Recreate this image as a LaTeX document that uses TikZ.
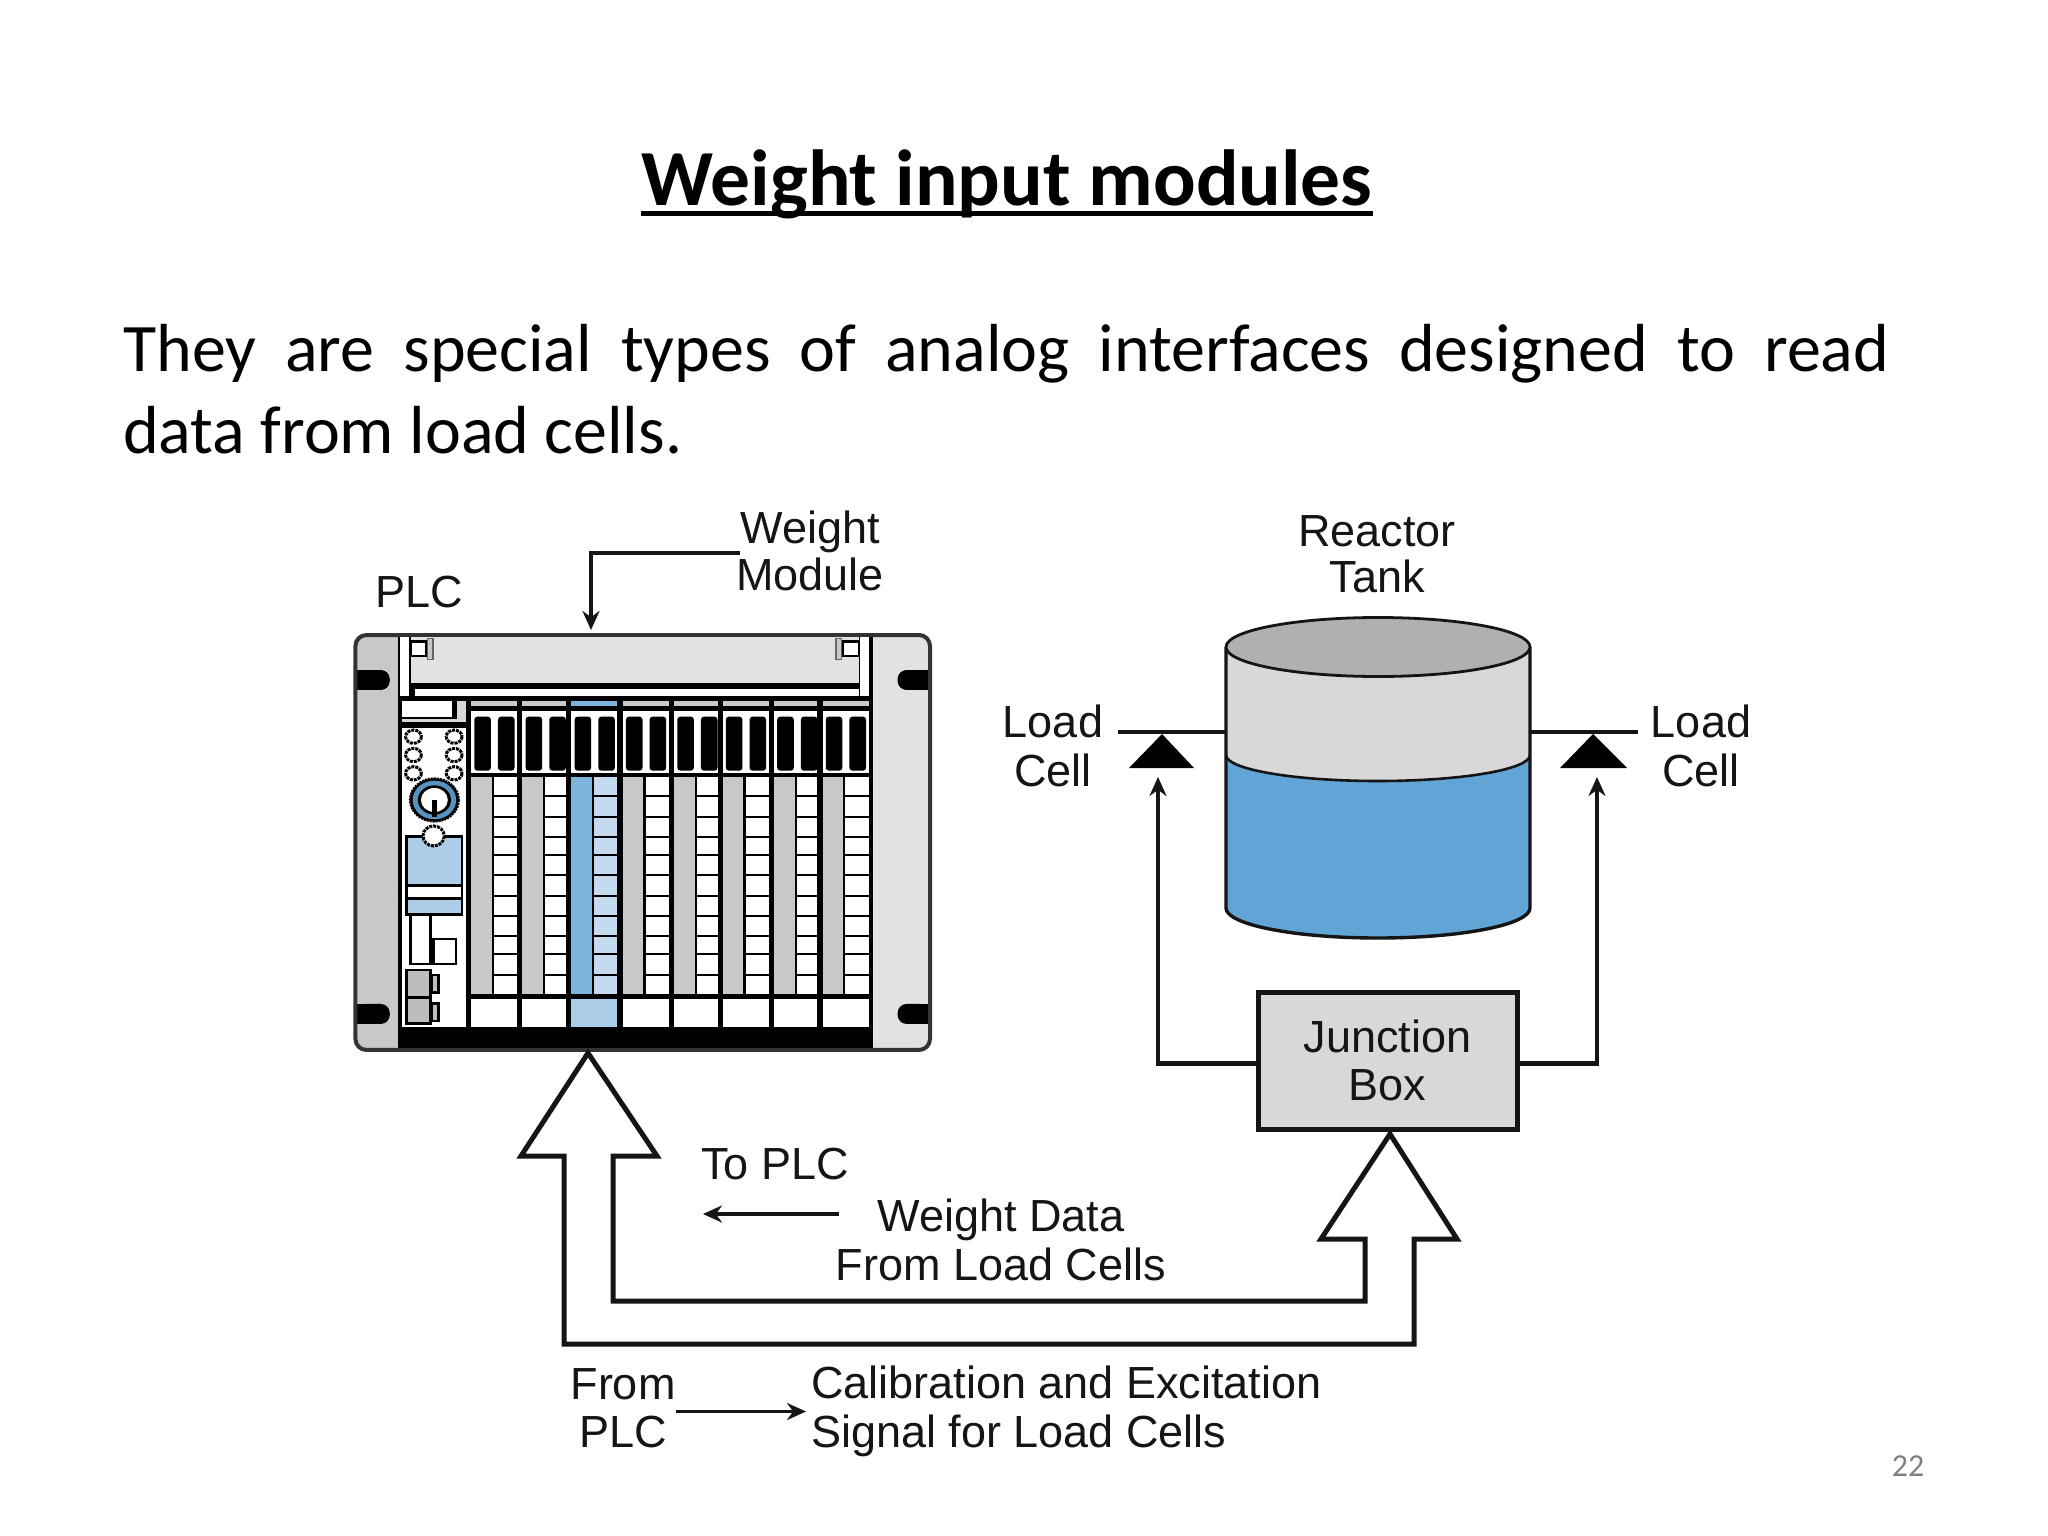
\documentclass[tikz,border=0pt]{standalone}
\usepackage{fontspec}
\setmainfont{Carlito}
\newfontfamily\dgfont{Liberation Sans}
\usetikzlibrary{arrows.meta,calc}
\definecolor{ink}{HTML}{151515}
\definecolor{wblue}{HTML}{60A5D5}
\definecolor{mblue}{HTML}{7DB4DE}
\definecolor{lblue}{HTML}{ABCDE8}
\definecolor{cblue}{HTML}{C5DAEE}
\definecolor{greyA}{HTML}{C8C8CA}
\definecolor{greyB}{HTML}{E2E2E4}
\definecolor{greyC}{HTML}{D8D8DA}
\definecolor{greyD}{HTML}{B0B0B2}
\definecolor{greyE}{HTML}{BDBDBF}
\tikzset{
  x=1pt,y=-1pt,
  lbl/.style={font=\dgfont\fontsize{45}{48.5}\selectfont,text=ink,align=center,inner sep=0pt},
  wire/.style={draw=ink,line width=4.5pt,line join=miter},
  thin wire/.style={draw=ink,line width=3.5pt},
  tip/.style={-{Stealth[length=19pt,width=17pt]}},
  fat/.style={draw=ink,line width=5pt,line join=miter,fill=white},
  outl/.style={draw=black,line width=2.6pt},
  led/.style={draw=black,line width=3pt,densely dotted,fill=white},
}
\newcommand{\plcmodule}[6]{%
  \fill[#6] (#1,243) rectangle (#2,258);
  \fill[white] (#1,272) rectangle (#2,458);
  \fill[black,rounded corners=3pt] ({#1+8},290) rectangle ({#1+50},452);
  \fill[black,rounded corners=3pt] ({#1+68},290) rectangle ({#1+110},452);
  \fill[#3] (#1,470) rectangle ({#1+52},1122);
  \fill[#4] ({#1+58},470) rectangle (#2,1122);
  \foreach \yy in {527,590,650,705,765,828,888,948,1003,1065}
    \fill[black] ({#1+58},\yy-3) rectangle (#2,\yy+3);
  \fill[#5] (#1,1137) rectangle (#2,1222);
}
\begin{document}
\begin{tikzpicture}
\useasboundingbox (0,0) rectangle (2048,1536);
\fill[white] (0,0) rectangle (2048,1536);

% slide text
\node[anchor=base,inner sep=0pt,font=\bfseries\fontsize{79.5}{88}\selectfont,text=black] (title) at (1007,205) {Weight input modules};
\draw[black,line width=5pt] ([yshift=-8pt]title.base west) -- ([yshift=-8pt]title.base east);
\node[anchor=north west,inner sep=0pt,text width=1766pt,align=justify,font=\fontsize{68}{82}\selectfont,text=black] (body) at (123,324)
  {They are special types of analog interfaces designed to read\linebreak data from load cells.};
\node[anchor=center,inner sep=0pt,font=\fontsize{32}{36}\selectfont,text=black!50] (pageno) at (1908,1466) {22};

% PLC rack, drawn in its own grid
\begin{scope}[shift={(341.6,620)},x=0.3949pt,y=-0.3333pt]
  \fill[greyA,rounded corners=10pt] (35,45) rectangle (300,1290);
  \fill[greyB,rounded corners=10pt] (1200,45) rectangle (1490,1290);
  \fill[black] (142,45) rectangle (1345,1290);
  % mounting holes
  \fill[black,rounded corners=9pt] (38,150) rectangle (122,210);
  \fill[black] (38,150) rectangle (70,210);
  \fill[black,rounded corners=9pt] (38,1152) rectangle (122,1212);
  \fill[black] (38,1152) rectangle (70,1212);
  \fill[black,rounded corners=9pt] (1408,150) rectangle (1487,210);
  \fill[black] (1450,150) rectangle (1487,210);
  \fill[black,rounded corners=9pt] (1408,1152) rectangle (1487,1212);
  \fill[black] (1450,1152) rectangle (1487,1212);
  \draw[black!80,line width=4pt,rounded corners=11pt] (35,45) rectangle (1490,1290);
  % top bar
  \fill[greyB] (175,52) rectangle (1310,188);
  \fill[white] (185,207) rectangle (1310,228);
  \fill[white] (148,52) rectangle (170,228);
  \fill[white] (1312,52) rectangle (1335,228);
  \draw[outl,fill=white] (175,65) rectangle (215,108);
  \draw[black!60,line width=1.5pt,fill=greyA] (218,55) rectangle (232,118);
  \draw[outl,fill=white] (1268,65) rectangle (1310,108);
  \draw[black!60,line width=1.5pt,fill=greyA] (1252,55) rectangle (1266,118);
  % CPU column
  \fill[greyC] (153,243) rectangle (315,305);
  \fill[white] (153,243) rectangle (280,290);
  \fill[black] (153,290) rectangle (293,296);
  \fill[black] (280,243) rectangle (293,296);
  \fill[white] (153,325) rectangle (315,1222);
  \foreach \lx in {182,285} \foreach \ly in {350,405,460}
    \draw[led] (\lx,\ly) circle [x radius=20,y radius=20];
  \draw[black,line width=2pt,densely dotted,fill=black] (235,540) circle [x radius=62,y radius=65];
  \fill[wblue!90!black] (235,540) circle [x radius=55,y radius=58];
  \fill[black] (235,540) circle [x radius=42,y radius=44];
  \fill[white] (235,540) circle [x radius=34,y radius=36];
  \fill[black] (228,540) rectangle (242,592);
  \draw[outl,fill=lblue] (165,650) rectangle (305,883);
  \fill[white] (168,800) rectangle (302,832);
  \draw[black,line width=2.6pt] (165,797) -- (305,797) (165,835) -- (305,835);
  \draw[led] (233,648) circle [x radius=27,y radius=30];
  \draw[outl,fill=white] (175,883) rectangle (225,1032);
  \draw[outl,fill=white] (232,957) rectangle (290,1032);
  \draw[outl,fill=greyE] (228,1065) rectangle (245,1118);
  \draw[outl,fill=greyE] (228,1150) rectangle (245,1203);
  \draw[outl,fill=greyE] (165,1050) rectangle (225,1133);
  \draw[outl,fill=greyE] (165,1133) rectangle (225,1210);
  % I/O modules
  \plcmodule{328}{445}{greyA}{white}{white}{greyA}
  \plcmodule{458}{568}{greyA}{white}{white}{greyA}
  \plcmodule{582}{698}{mblue}{cblue}{lblue}{mblue}
  \plcmodule{712}{828}{greyA}{white}{white}{greyA}
  \plcmodule{842}{952}{greyA}{white}{white}{greyA}
  \plcmodule{965}{1082}{greyA}{white}{white}{greyA}
  \plcmodule{1095}{1205}{greyA}{white}{white}{greyA}
  \plcmodule{1218}{1335}{greyA}{white}{white}{greyA}
\end{scope}

% Tank
\fill[greyC] (1226,647) -- (1226,908) arc[start angle=180,end angle=0,x radius=152,y radius=30] -- (1530,647) -- cycle;
\fill[wblue] (1226,755) arc[start angle=180,end angle=0,x radius=152,y radius=26] -- (1530,908) arc[start angle=0,end angle=180,x radius=152,y radius=30] -- cycle;
\draw[ink,line width=2.6pt] (1226,755) arc[start angle=180,end angle=0,x radius=152,y radius=26];
\draw[ink,line width=3.4pt] (1226,647) -- (1226,908) arc[start angle=180,end angle=0,x radius=152,y radius=30] -- (1530,647);
\draw[ink,line width=2.8pt,fill=greyD] (1378,647) ellipse [x radius=152,y radius=29.5];
\coordinate (tankL) at (1226,732);
\coordinate (tankR) at (1530,732);

% Labels
\node[lbl] (plc) at (419,592) {PLC};
\node[lbl] (wm) at (810,551) {Weight\\[-2pt]Module};
\node[lbl] (rt) at (1377,554) {Reactor\\[-2pt]Tank};
\node[lbl] (lcl) at (1053,746) {Load\\Cell};
\node[lbl] (lcr) at (1701,746) {Load\\Cell};
\node[lbl] (toplc) at (775,1164) {To PLC};
\node[lbl] (wd) at (1001,1240) {Weight Data\\From Load Cells};
\node[lbl] (fp) at (623,1408) {From\\PLC};
\node[lbl,align=left,anchor=west] (cal) at (811,1411.5) {Calibration and Excitation\\Signal for Load Cells};
\node[lbl,draw=ink,line width=5pt,fill=greyC,minimum width=259pt,minimum height=137pt] (jb) at (1387.5,1060.5) {Junction\\Box};

% Load cells
\draw[wire] ($(lcl.east |- tankL)+(15,0)$) -- (tankL);
\draw[wire] (tankR) -- ($(lcr.west |- tankR)+(-13,0)$);
\fill[black] (1162,734) -- (1194,768) -- (1129,768) -- cycle;
\fill[black] (1593,734) -- (1627,768) -- (1560,768) -- cycle;
\coordinate (tipL) at (1158,777);
\coordinate (tipR) at (1597,777);
\draw[wire,tip] ([yshift=-3pt]jb.west) -| (tipL);
\draw[wire,tip] ([yshift=-3pt]jb.east) -| (tipR);

% Signal arrows
\coordinate (wmin) at (740,553);
\coordinate (wmout) at (591,630);
\draw[thin wire,tip] (wmin) -| (wmout);
\coordinate (tpA) at (839,1214);
\coordinate (tpB) at (703,1214);
\draw[thin wire,tip] (tpA) -- (tpB);
\draw[thin wire,tip] (fp.east |- cal.west) -- ([xshift=-5pt]cal.west);

% Fat double arrow
\draw[fat] (588,1053) -- (657,1156) -- (613,1156) -- (613,1301) -- (1365,1301) -- (1365,1239) -- (1321,1239) -- (1390,1134) -- (1457,1239) -- (1414,1239) -- (1414,1344) -- (564,1344) -- (564,1156) -- (521,1156) -- cycle;
\end{tikzpicture}
\end{document}
